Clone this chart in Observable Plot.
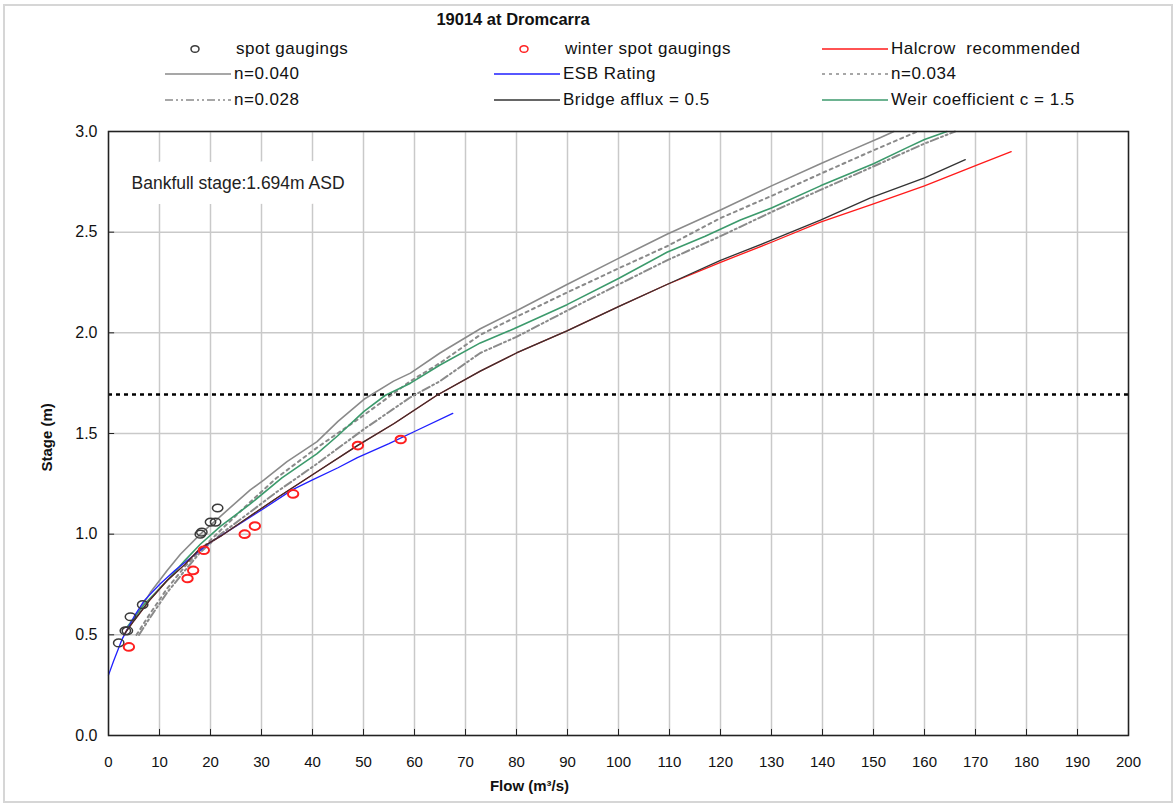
<!DOCTYPE html>
<html>
<head>
<meta charset="utf-8">
<script src="https://cdn.jsdelivr.net/npm/d3@7"></script>
<script src="https://cdn.jsdelivr.net/npm/@observablehq/plot@0.6"></script>
<style>
  body { margin: 0; background: #fff; }
  #page { position: relative; width: 1176px; height: 805px; overflow: hidden; background: #fff;
          font-family: "Liberation Sans", Arial, sans-serif; color: #111; }
  #border { position: absolute; left: 3px; top: 4px; width: 1166px; height: 795px; border: 2px solid #d6d6d6; }
  #title { position: absolute; top: 10px; left: 0; width: 1026px; text-align: center;
           font-weight: bold; font-size: 16.5px; }
  .leg { position: absolute; height: 20px; display: flex; align-items: center;
         font-size: 17px; letter-spacing: 0.5px; white-space: pre; }
  .leg svg { margin-right: 3px; }
  #chart { position: absolute; left: 0; top: 121px; }
</style>
</head>
<body>
<div id="page">
  <div id="border"></div>
  <div id="title">19014 at Dromcarra</div>
  <div id="legend"></div>
  <div id="chart"></div>
</div>
<script>
// ---- Axis ticks ----
const flowTicks = d3.range(0, 201, 10);
const stageTicks = [0, 0.5, 1.0, 1.5, 2.0, 2.5, 3.0];

// ---- Bankfull stage ----
const bankfullStage = 1.694;
const bankfullLabel = "Bankfull stage:1.694m ASD";

// ---- Spot gaugings (flow m3/s, stage m) ----
const spotFlow  = [2.0, 3.3, 3.7, 4.3, 6.7, 18.0, 18.3, 20.0, 21.0, 21.4];
const spotStage = [0.46, 0.52, 0.52, 0.59, 0.65, 1.00, 1.01, 1.06, 1.06, 1.13];

// ---- Winter spot gaugings ----
const winterFlow  = [4.0, 15.5, 16.6, 18.7, 26.7, 28.7, 36.2, 48.9, 57.3];
const winterStage = [0.44, 0.78, 0.82, 0.92, 1.00, 1.04, 1.20, 1.44, 1.47];

// ---- Halcrow recommended rating ----
const halcrowFlow  = [3.0, 5, 8, 11.5, 15, 18, 22, 27.8, 33, 40.9, 48.8, 56, 64.4, 72.9, 80, 89.9, 100, 109.5, 120, 130, 139.6, 150, 160, 171, 177];
const halcrowStage = [0.50, 0.57, 0.67, 0.77, 0.85, 0.93, 0.99, 1.09, 1.18, 1.31, 1.44, 1.55, 1.69, 1.81, 1.90, 2.01, 2.13, 2.24, 2.35, 2.45, 2.55, 2.64, 2.73, 2.84, 2.90];

// ---- Bridge afflux = 0.5 ----
const bridgeFlow  = [3.0, 5, 8, 11.5, 15, 18, 22, 27.8, 33, 40.9, 48.8, 56, 64.4, 72.9, 80, 89.9, 100, 109.5, 120, 130, 139.6, 149.4, 160, 168];
const bridgeStage = [0.50, 0.57, 0.67, 0.77, 0.85, 0.93, 0.99, 1.09, 1.18, 1.31, 1.44, 1.55, 1.69, 1.81, 1.90, 2.01, 2.13, 2.24, 2.36, 2.46, 2.56, 2.67, 2.77, 2.86];

// ---- ESB rating ----
const esbFlow  = [0, 1, 2.7, 5, 7, 10, 13, 16, 20, 25, 30, 36, 40, 45, 48.8, 55, 60, 67.5];
const esbStage = [0.30, 0.37, 0.48, 0.59, 0.67, 0.75, 0.82, 0.88, 0.96, 1.04, 1.12, 1.22, 1.27, 1.33, 1.38, 1.45, 1.51, 1.60];

// ---- Manning n = 0.040 ----
const n040Flow  = [3.5, 6, 8.2, 11.5, 14.1, 18, 22, 27.8, 30.5, 35, 40.9, 45, 50.1, 55.9, 59.2, 65, 72.9, 80, 89.9, 100, 109.5, 120, 130, 139.6, 145, 151.4, 154];
const n040Stage = [0.52, 0.62, 0.71, 0.82, 0.90, 1.00, 1.09, 1.22, 1.27, 1.36, 1.46, 1.56, 1.67, 1.76, 1.80, 1.90, 2.02, 2.11, 2.24, 2.37, 2.49, 2.61, 2.73, 2.84, 2.90, 2.97, 3.0];

// ---- Manning n = 0.034 ----
const n034Flow  = [5.5, 8, 11.5, 15, 18, 22, 27.8, 33, 40.9, 50, 59.2, 65, 72.9, 80, 89.9, 100, 109.5, 120, 130, 139.6, 149.4, 158.6];
const n034Stage = [0.50, 0.60, 0.73, 0.84, 0.92, 1.02, 1.16, 1.28, 1.43, 1.59, 1.76, 1.85, 1.99, 2.08, 2.20, 2.32, 2.43, 2.57, 2.68, 2.79, 2.90, 3.0];

// ---- Manning n = 0.028 ----
const n028Flow  = [6, 8, 11.5, 15, 18, 22, 27.8, 33, 40.9, 50, 59.2, 65, 72.9, 80, 89.9, 100, 109.5, 120, 130, 139.6, 149.4, 160, 166];
const n028Stage = [0.50, 0.58, 0.71, 0.82, 0.91, 1.00, 1.11, 1.21, 1.35, 1.52, 1.68, 1.76, 1.90, 1.98, 2.11, 2.24, 2.36, 2.48, 2.60, 2.71, 2.82, 2.94, 3.0];

// ---- Weir coefficient c = 1.5 ----
const weirFlow  = [3.7, 7, 11.5, 15, 18, 22, 27.8, 34, 40.9, 45, 50.1, 54.3, 59.2, 65, 72.9, 79.5, 89.9, 100, 109.5, 117, 123.9, 130, 139.6, 150, 156.6, 160, 164.4];
const weirStage = [0.54, 0.65, 0.77, 0.87, 0.95, 1.04, 1.15, 1.28, 1.40, 1.49, 1.61, 1.69, 1.75, 1.84, 1.95, 2.02, 2.14, 2.27, 2.40, 2.48, 2.56, 2.62, 2.73, 2.84, 2.92, 2.96, 3.0];

// ---- Series styles ----
const styles = {
  n040:    {stroke: "#8a8a8a", strokeWidth: 1.6},
  n034:    {stroke: "#8a8a8a", strokeWidth: 2, strokeDasharray: "3,4"},
  n028:    {stroke: "#8a8a8a", strokeWidth: 2, strokeDasharray: "8,3,2,3,2,3"},
  esb:     {stroke: "#1f1fff", strokeWidth: 1.3},
  halcrow: {stroke: "#ff1a1a", strokeWidth: 1.3},
  bridge:  {stroke: "#333333", strokeWidth: 1.3},
  weir:    {stroke: "#3c9a6c", strokeWidth: 1.6}
};

const toRows = (xs, ys) => xs.map((x, i) => ({flow: x, stage: ys[i]}));

// Slightly oval ring used for the gauging markers
const ring = {
  draw(ctx, size) {
    const r = Math.sqrt(size / Math.PI), rx = r * 1.15, ry = r * 0.85, k = 0.5523;
    ctx.moveTo(rx, 0);
    ctx.bezierCurveTo(rx, ry * k, rx * k, ry, 0, ry);
    ctx.bezierCurveTo(-rx * k, ry, -rx, ry * k, -rx, 0);
    ctx.bezierCurveTo(-rx, -ry * k, -rx * k, -ry, 0, -ry);
    ctx.bezierCurveTo(rx * k, -ry, rx, -ry * k, rx, 0);
    ctx.closePath();
  }
};

const font = '"Liberation Sans", Arial, sans-serif';

const line = (xs, ys, st) => Plot.line(toRows(xs, ys), {x: "flow", y: "stage", ...st, strokeLinejoin: "round"});

const chart = Plot.plot({
  width: 1176,
  height: 684,
  marginLeft: 108,
  marginRight: 48,
  marginTop: 10,
  marginBottom: 70,
  x: {domain: [0, 200]},
  y: {domain: [0, 3]},
  style: {fontFamily: font, fontSize: "13px", color: "#111", background: "transparent"},
  marks: [
    Plot.gridX(flowTicks, {stroke: "#c9c9c9", strokeOpacity: 1, strokeWidth: 1.5}),
    Plot.gridY(stageTicks, {stroke: "#c9c9c9", strokeOpacity: 1, strokeWidth: 1.5}),
    Plot.text([bankfullLabel], {
      frameAnchor: "top-left", dx: 23, dy: 45, textAnchor: "start",
      fontSize: 17.5, fill: "#222",
      stroke: "white", strokeWidth: 30, strokeLinejoin: "round"
    }),
    Plot.ruleY([bankfullStage], {stroke: "#000", strokeWidth: 2.5, strokeDasharray: "4,4"}),
    line(n040Flow, n040Stage, styles.n040),
    line(n034Flow, n034Stage, styles.n034),
    line(n028Flow, n028Stage, styles.n028),
    line(weirFlow, weirStage, styles.weir),
    line(esbFlow, esbStage, styles.esb),
    line(halcrowFlow, halcrowStage, styles.halcrow),
    line(bridgeFlow, bridgeStage, styles.bridge),
    Plot.dot(toRows(spotFlow, spotStage), {x: "flow", y: "stage", r: 4.5, symbol: ring, stroke: "#3a3a3a", strokeWidth: 1.5, fill: "none"}),
    Plot.dot(toRows(winterFlow, winterStage), {x: "flow", y: "stage", r: 4.5, symbol: ring, stroke: "#ff2020", strokeWidth: 2, fill: "none"}),
    Plot.ruleX(flowTicks, {y1: 0, y2: 0.03, stroke: "#222", strokeWidth: 1}),
    Plot.ruleY(stageTicks, {x1: 0, x2: 1.2, stroke: "#222", strokeWidth: 1}),
    Plot.frame({stroke: "#222", strokeWidth: 1.5}),
    Plot.axisX(flowTicks, {tickSize: 0, tickPadding: 21, label: null, fontSize: 15}),
    Plot.axisY(stageTicks, {tickSize: 0, tickPadding: 11, label: null, tickFormat: d3.format(".1f"), fontSize: 16}),
    Plot.text(["Flow (m³/s)"], {frameAnchor: "bottom", dx: -89, dy: 55, fontWeight: "bold", fontSize: 15}),
    Plot.text(["Stage (m)"], {frameAnchor: "left", dx: -61, dy: 38, rotate: -90, fontWeight: "bold", fontSize: 15})
  ]
});
document.getElementById("chart").appendChild(chart);

// ---- Legend ----
const legendItems = [
  {label: "spot gaugings",            kind: "dot",  color: "#3a3a3a", col: 0, row: 0},
  {label: "winter spot gaugings",     kind: "dot",  color: "#ff2020", col: 1, row: 0},
  {label: "Halcrow  recommended",     kind: "line", style: styles.halcrow, col: 2, row: 0},
  {label: "n=0.040",                  kind: "line", style: styles.n040, col: 0, row: 1},
  {label: "ESB Rating",               kind: "line", style: styles.esb, col: 1, row: 1},
  {label: "n=0.034",                  kind: "line", style: styles.n034, col: 2, row: 1},
  {label: "n=0.028",                  kind: "line", style: styles.n028, col: 0, row: 2},
  {label: "Bridge afflux = 0.5",      kind: "line", style: styles.bridge, col: 1, row: 2},
  {label: "Weir coefficient c = 1.5", kind: "line", style: styles.weir, col: 2, row: 2}
];
const colLeft = [165, 494, 822];
const rowTop = [39, 64, 90];
const legend = document.getElementById("legend");
for (const it of legendItems) {
  const div = document.createElement("div");
  div.className = "leg";
  div.style.left = colLeft[it.col] + "px";
  div.style.top = rowTop[it.row] + "px";
  let sw;
  if (it.kind === "dot") {
    sw = `<svg width="68" height="14"><ellipse cx="30" cy="7" rx="4" ry="3.3" fill="none" stroke="${it.color}" stroke-width="1.5"/></svg>`;
  } else {
    const s = it.style;
    sw = `<svg width="66" height="14"><line x1="0" x2="66" y1="7" y2="7" stroke="${s.stroke}" stroke-width="${Math.min(s.strokeWidth, 1.6)}" ${s.strokeDasharray ? `stroke-dasharray="${s.strokeDasharray}"` : ""}/></svg>`;
  }
  div.innerHTML = sw + `<span>${it.label}</span>`;
  legend.appendChild(div);
}
</script>
</body>
</html>
